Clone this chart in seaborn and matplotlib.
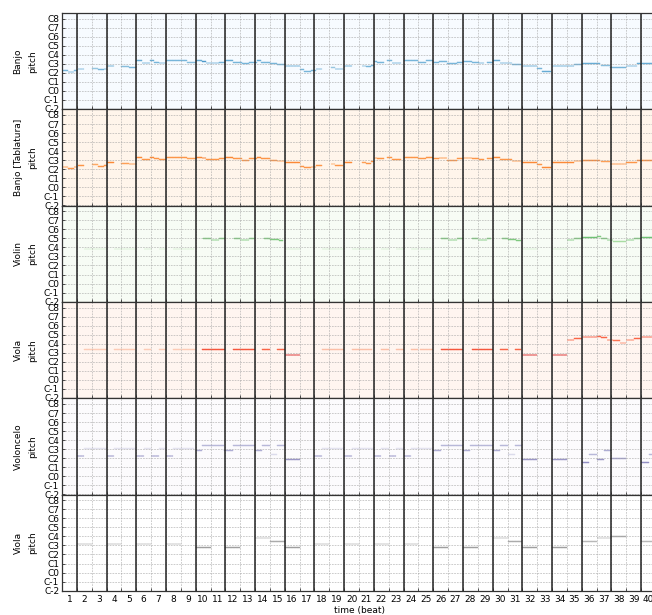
import numpy as np
import matplotlib
matplotlib.use("Agg")
import matplotlib.pyplot as plt
import seaborn as sns

plt.rcParams['font.family'] = ['DejaVu Sans']

RES = 10          # time steps per beat
N_BEATS = 40

track_names = ["Banjo", "Banjo [Tablatura]", "Violin", "Viola", "Violoncelo", "Viola"]
track_cmaps = ["Blues", "Oranges", "Greens", "Reds", "Purples", "Greys"]
pitch_labels = ["C-2", "C-1", "C0", "C1", "C2", "C3", "C4", "C5", "C6", "C7", "C8"]
beat_labels = [str(i) for i in range(1, N_BEATS + 1)]

# notes: (start beat, end beat, pitch, velocity)
banjo_notes = [
    (0.0, 0.4, 51, 60), (0.4, 0.8, 49, 60), (0.8, 1.0, 51, 60), (1.1, 1.5, 53, 60),
    (2.0, 2.4, 54, 50), (2.4, 2.8, 52, 60), (2.8, 3.0, 53, 60), (3.0, 3.5, 57, 65),
    (4.0, 4.5, 56, 55), (4.5, 5.0, 55, 60),
    (5.0, 5.4, 64, 65), (5.4, 5.9, 61, 60), (5.9, 6.2, 64, 65), (6.2, 6.5, 62, 60), (6.5, 7.0, 61, 60),
    (7.0, 8.4, 64, 60), (8.4, 9.0, 62, 55), (9.0, 9.4, 64, 65), (9.4, 9.7, 63, 75), (9.7, 10.6, 61, 60),
    (10.6, 11.0, 62, 60), (11.0, 11.5, 64, 65), (11.5, 12.1, 62, 60), (12.1, 12.6, 60, 60),
    (12.6, 13.1, 62, 60), (13.1, 13.4, 64, 65), (13.4, 14.0, 62, 60), (14.0, 14.5, 60, 60),
    (14.5, 15.0, 59, 60), (15.0, 16.0, 57, 65),
    (16.0, 16.3, 52, 60), (16.3, 16.8, 50, 60), (16.8, 17.1, 51, 60), (17.1, 17.5, 53, 60),
    (18.1, 18.4, 55, 50), (18.4, 18.9, 53, 60), (19.0, 19.5, 57, 65),
    (20.2, 20.5, 57, 55), (20.5, 20.8, 56, 60), (20.8, 21.0, 58, 60), (21.0, 21.2, 63, 60),
    (21.2, 21.7, 62, 60), (21.9, 22.2, 64, 60), (22.2, 22.8, 61, 60),
    (23.0, 24.0, 64, 60), (24.0, 24.5, 62, 60), (24.5, 25.0, 64, 60), (25.0, 25.4, 62, 60),
    (25.4, 25.9, 63, 60), (25.9, 26.6, 60, 60), (26.6, 27.0, 62, 60), (27.0, 27.6, 63, 60),
    (27.6, 28.1, 62, 60), (28.1, 28.4, 61, 60), (28.6, 29.0, 62, 60), (29.0, 29.5, 64, 65),
    (29.5, 30.3, 61, 60), (30.3, 30.9, 59, 60), (31.0, 32.0, 57, 65),
    (32.0, 32.3, 54, 60), (32.3, 32.9, 50, 65), (33.0, 34.5, 57, 65), (34.5, 35.0, 59, 60),
    (35.0, 36.2, 60, 65), (36.3, 36.9, 58, 55), (36.9, 38.0, 55, 60), (38.0, 38.7, 57, 60),
    (38.7, 40.0, 60, 65),
]

tablatura_notes = list(banjo_notes)

violin_notes = [
    (1.5, 3.0, 70, 22), (3.5, 4.9, 70, 22), (5.5, 6.0, 70, 22), (6.5, 7.0, 70, 22),
    (7.5, 8.0, 70, 22), (8.1, 8.9, 70, 22),
    (9.5, 10.0, 84, 60), (10.0, 10.6, 82, 60), (10.6, 11.0, 84, 60), (11.6, 12.0, 84, 60),
    (12.0, 12.6, 82, 60), (12.6, 12.9, 84, 60), (13.6, 14.0, 84, 60), (14.0, 14.6, 83, 60),
    (14.6, 14.9, 81, 60), (15.0, 16.0, 70, 22),
    (17.5, 19.0, 70, 22), (19.5, 20.9, 70, 22), (21.5, 22.0, 70, 22), (22.5, 23.0, 70, 22),
    (23.5, 24.0, 70, 22), (24.1, 24.9, 70, 22),
    (25.5, 26.0, 84, 60), (26.0, 26.6, 82, 60), (26.6, 27.0, 84, 60), (27.6, 28.0, 84, 60),
    (28.0, 28.6, 82, 60), (28.6, 28.9, 84, 60), (29.6, 30.0, 84, 60), (30.0, 30.6, 83, 60),
    (30.6, 30.9, 81, 60), (31.0, 32.0, 70, 22), (33.0, 34.0, 70, 22),
    (34.0, 34.5, 82, 60), (34.5, 35.0, 84, 60), (35.0, 36.0, 85, 65), (36.0, 36.3, 87, 60),
    (36.3, 36.7, 84, 60), (36.7, 37.1, 82, 60), (37.1, 38.0, 80, 45), (38.0, 38.5, 82, 60),
    (38.5, 39.0, 84, 60), (39.0, 40.0, 85, 65),
]

viola_notes = [
    (1.5, 3.0, 64, 25), (3.5, 4.9, 64, 25), (5.5, 6.0, 64, 25), (6.5, 7.0, 64, 25),
    (7.5, 8.0, 64, 25), (8.1, 9.0, 64, 25),
    (9.4, 11.0, 64, 70), (11.5, 13.0, 64, 70), (13.5, 14.0, 64, 65), (14.5, 15.0, 64, 65),
    (15.0, 16.0, 57, 90),
    (17.5, 19.0, 64, 30), (19.5, 20.9, 64, 30), (21.5, 22.0, 64, 30), (22.5, 23.0, 64, 30),
    (23.5, 24.0, 64, 30), (24.1, 25.0, 64, 30),
    (25.5, 27.0, 64, 70), (27.6, 29.0, 64, 70), (29.5, 30.0, 64, 65), (30.5, 30.9, 64, 65),
    (31.0, 32.0, 57, 90), (33.0, 34.0, 57, 90),
    (34.0, 34.5, 77, 65), (34.5, 35.0, 79, 65), (35.0, 36.0, 81, 70), (36.0, 36.3, 82, 65),
    (36.3, 36.7, 80, 65), (36.7, 37.1, 77, 60), (37.1, 37.6, 76, 60), (37.6, 38.0, 73, 50),
    (38.0, 38.5, 77, 60), (38.5, 39.0, 79, 65), (39.0, 40.0, 81, 70),
]

cello_notes = [
    (1.0, 1.5, 51, 75), (1.5, 3.0, 61, 25), (3.0, 3.5, 51, 75), (3.5, 5.0, 61, 25),
    (5.0, 5.5, 51, 75), (5.5, 6.0, 61, 25), (6.0, 6.5, 51, 75), (6.5, 7.0, 61, 25),
    (7.0, 7.5, 51, 75), (7.5, 8.9, 61, 25),
    (9.0, 9.4, 58, 55), (9.4, 10.9, 65, 50), (10.9, 11.5, 58, 55), (11.5, 13.0, 65, 50),
    (13.0, 13.5, 58, 55), (13.5, 14.0, 65, 50), (14.1, 14.5, 53, 30), (14.5, 15.0, 65, 50),
    (15.1, 16.0, 46, 65),
    (17.0, 17.5, 51, 75), (17.5, 19.0, 61, 25), (19.0, 19.5, 51, 75), (19.5, 21.0, 61, 25),
    (21.0, 21.5, 51, 75), (21.5, 22.0, 61, 25), (22.0, 22.5, 51, 75), (22.5, 23.0, 61, 25),
    (23.0, 23.5, 51, 75), (23.5, 25.0, 61, 25),
    (25.0, 25.5, 58, 55), (25.5, 27.0, 65, 50), (27.0, 27.5, 58, 55), (27.5, 29.0, 65, 50),
    (29.0, 29.5, 58, 55), (29.5, 30.0, 65, 50), (30.0, 30.5, 53, 30), (30.5, 31.0, 65, 50),
    (31.0, 32.0, 46, 65), (33.0, 34.0, 46, 65),
    (35.0, 35.5, 42, 70), (35.5, 36.0, 53, 50), (36.0, 36.5, 46, 65), (36.5, 37.0, 58, 55),
    (37.0, 38.0, 48, 60), (39.0, 39.5, 42, 70), (39.5, 40.0, 53, 50),
]

viola2_notes = [
    (1.0, 2.0, 62, 45), (3.0, 4.0, 62, 45), (5.0, 6.0, 62, 45), (7.0, 8.0, 62, 45),
    (9.0, 10.0, 57, 60), (11.0, 12.0, 57, 60), (13.0, 14.0, 70, 45), (14.0, 15.0, 65, 55),
    (15.0, 16.0, 57, 60),
    (17.0, 18.0, 62, 45), (19.0, 20.0, 62, 45), (21.0, 22.0, 62, 45), (23.0, 24.0, 62, 45),
    (25.0, 26.0, 57, 60), (27.0, 28.0, 57, 60), (29.0, 30.0, 70, 45), (30.0, 31.0, 65, 55),
    (31.0, 32.0, 57, 60), (33.0, 34.0, 57, 60), (35.0, 36.0, 65, 50), (36.0, 37.0, 70, 45),
    (37.0, 38.0, 72, 55), (39.0, 40.0, 65, 50),
]

tracks = [banjo_notes, tablatura_notes, violin_notes, viola_notes, cello_notes, viola2_notes]


def build_roll(notes):
    roll = np.zeros((128, N_BEATS * RES))
    for s, e, p, v in notes:
        roll[p, int(round(s * RES)):int(round(e * RES))] = v
    return roll


W, H = 652, 615
fig = plt.figure(figsize=(W / 100, H / 100), dpi=100)
left_px, right_px = 62, 656
top_px, bottom_px = 13, 591
ph = (bottom_px - top_px) / len(tracks)
FS = 6.5

for i, (notes, name, cmap) in enumerate(zip(tracks, track_names, track_cmaps)):
    ax = fig.add_axes([left_px / W, 1 - (top_px + (i + 1) * ph) / H,
                       (right_px - left_px) / W, ph / H])
    roll = build_roll(notes)
    sns.heatmap(roll, ax=ax, cmap=cmap, vmin=0, vmax=127, cbar=False,
                mask=(roll == 0), xticklabels=False, yticklabels=False,
                linewidths=0.3, linecolor='face', antialiased=True)
    ax.set_facecolor(plt.get_cmap(cmap)(0.0))
    ax.set_xlim(0, N_BEATS * RES)
    ax.set_ylim(0, 128)
    for s in ax.spines.values():
        s.set_visible(True)
        s.set_color('#333333')
        s.set_linewidth(0.9)

    ax.set_yticks(np.arange(0, 121, 12) + 0.5)
    ax.set_yticklabels(pitch_labels, fontsize=FS)
    ax.set_xticks(np.arange(0, N_BEATS + 1) * RES)
    ax.set_xticklabels([])
    ax.set_xticks((np.arange(N_BEATS) + 0.5) * RES, minor=True)
    if i == len(tracks) - 1:
        ax.set_xticklabels(beat_labels, minor=True, fontsize=FS)
        ax.set_xlabel("time (beat)", fontsize=FS, labelpad=1)
    else:
        ax.set_xticklabels([], minor=True)
    ax.tick_params(axis='x', which='minor', length=0, pad=3)
    ax.tick_params(which='major', direction='in', length=2.5, width=0.6, pad=2,
                   color='#333333')
    ax.grid(True, which='major', color='#a0a0a0', linestyle=(0, (2.5, 1.5)),
            linewidth=0.5, alpha=0.75)
    for b in range(1, N_BEATS, 2):
        ax.axvline(b * RES, color='#222222', linewidth=1.1)

    ax.set_ylabel("pitch", fontsize=FS)
    ax.yaxis.set_label_coords((37 - left_px) / (right_px - left_px), 0.5)
    ax.text((18 - left_px) / (right_px - left_px), 0.5, name, rotation=90,
            transform=ax.transAxes, ha='center', va='center', fontsize=FS)

fig.savefig("out.png", dpi=100)
